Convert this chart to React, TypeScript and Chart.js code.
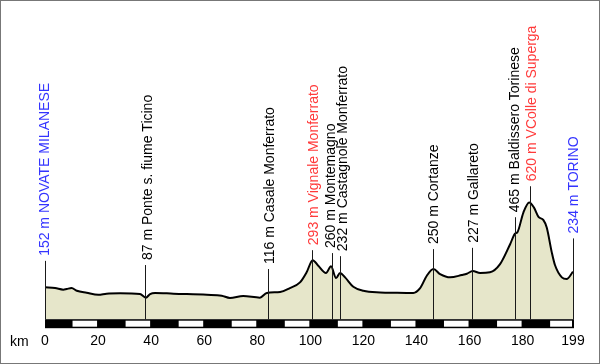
import React, { useEffect, useRef } from "react";
import { Chart, registerables } from "chart.js";

Chart.register(...registerables);

// Elevation profile (km, metres)
const profileKm = [0, 3.8, 6.9, 8.2, 10, 12, 15.7, 20.1, 23.2, 28.3, 35.8, 38, 39.6, 41.5, 48.4, 61, 66.6, 69.7, 74.7, 81, 83.6, 88.6, 92.3, 96.1, 98.6, 100.9, 103, 105.9, 107.8, 109.7, 111.2, 113.1, 116.2, 120, 126.3, 132.6, 138.8, 141.3, 143.9, 146.4, 148.9, 152.7, 157.1, 159, 161.2, 164, 167.7, 171.5, 175.3, 177.2, 178, 180.3, 182.5, 184.3, 186, 187.8, 189.1, 191, 192.2, 194.8, 196.6, 199];
const profileElev = [152, 148, 139, 143, 148, 133, 122, 111, 117, 119, 115, 95, 115, 121, 117, 111, 106, 93, 104, 95, 121, 126, 148, 179, 235, 302, 271, 231, 268, 203, 231, 207, 155, 133, 124, 122, 121, 146, 216, 253, 225, 207, 220, 227, 242, 231, 235, 280, 390, 449, 455, 565, 620, 592, 541, 524, 482, 345, 275, 207, 198, 238];

// Waypoints
const markerKm = [0, 37.8, 84.0, 100.8, 108.3, 111.3, 146.4, 161.0, 177.0, 182.8, 199];
const markerAlt = [152, 87, 116, 293, 260, 232, 250, 227, 465, 620, 234];
const markerName = [
  "NOVATE MILANESE",
  "Ponte s. fiume Ticino",
  "Casale Monferrato",
  "Vignale Monferrato",
  "Montemagno",
  "Castagnole Monferrato",
  "Cortanze",
  "Gallareto",
  "Baldissero Torinese",
  "VColle di Superga",
  "TORINO",
];
const markerKind = ["start", "normal", "normal", "climb", "normal", "normal", "normal", "normal", "normal", "climb", "finish"];
// elevation where each leader line ends (label starts above it)
const markerLeaderTop = [298, 275, 253, 357, 341, 324, 363, 370, 539, 710, 422];

// Axis
const tickKm = [0, 20, 40, 60, 80, 100, 120, 140, 160, 180, 199];
const distanceMax = 199;
const stripStep = 10;

// styling (label horizontal nudges in px, to avoid overlaps)
const labelNudge = [-1.5, 1.4, 0.8, 0.5, -3, 1.6, -1.1, 0, -1.5, 0, -1];

const kindColor: Record<string, string> = {
  start: "#3434ff",
  finish: "#3434ff",
  climb: "#ff3a3a",
  normal: "#000000",
};

const FONT = "'Liberation Sans', Arial, sans-serif";

const overlayPlugin = {
  id: "overlay",
  afterDatasetsDraw(chart: any) {
    const { ctx, chartArea, scales } = chart;
    const xs = scales.x;
    const ys = scales.y;
    ctx.save();
    // leader lines
    ctx.strokeStyle = "#1a1a1a";
    ctx.lineWidth = 1;
    markerKm.forEach((km, i) => {
      const x = Math.round(xs.getPixelForValue(km)) + 0.5;
      const yTop = ys.getPixelForValue(markerLeaderTop[i]);
      ctx.beginPath();
      ctx.moveTo(x, chartArea.bottom);
      ctx.lineTo(x, yTop);
      ctx.stroke();
    });
    // labels
    ctx.font = `14px ${FONT}`;
    ctx.textAlign = "left";
    ctx.textBaseline = "alphabetic";
    markerKm.forEach((km, i) => {
      const x = xs.getPixelForValue(km);
      const yTop = ys.getPixelForValue(markerLeaderTop[i]);
      ctx.save();
      ctx.translate(x + 0.5 + labelNudge[i] + 5, yTop - 5);
      ctx.rotate(-Math.PI / 2);
      ctx.fillStyle = kindColor[markerKind[i]];
      ctx.fillText(`${markerAlt[i]} m ${markerName[i]}`, 0, 0);
      ctx.restore();
    });
    ctx.restore();
  },
  afterDraw(chart: any) {
    const { ctx, chartArea, scales, width, height } = chart;
    const xs = scales.x;
    ctx.save();
    // distance strip
    const top = chartArea.bottom;
    const h = 9;
    const x0 = xs.getPixelForValue(0);
    const x1 = xs.getPixelForValue(distanceMax);
    ctx.fillStyle = "#000";
    ctx.fillRect(x0, top, x1 - x0 + 1, h);
    ctx.fillStyle = "#fff";
    for (let k = stripStep, n = 1; k < distanceMax; k += stripStep, n++) {
      if (n % 2 === 1) {
        const a = xs.getPixelForValue(k);
        const b = xs.getPixelForValue(Math.min(k + stripStep, distanceMax));
        ctx.fillRect(a + 1, top + 1.5, b - a - 2, h - 3);
      }
    }
    // "km" label
    ctx.fillStyle = "#000";
    ctx.font = `14px ${FONT}`;
    ctx.textAlign = "left";
    ctx.textBaseline = "middle";
    ctx.fillText("km", 10, 342);
    // frame
    ctx.strokeStyle = "#777";
    ctx.lineWidth = 1;
    ctx.strokeRect(0.5, 0.5, width - 1, height - 1);
    ctx.restore();
  },
};

export default function App() {
  const ref = useRef<HTMLCanvasElement | null>(null);
  useEffect(() => {
    if (!ref.current) return;
    const chart = new Chart(ref.current, {
      type: "line",
      data: {
        datasets: [
          {
            data: profileKm.map((km, i) => ({ x: km, y: profileElev[i] })),
            borderColor: "#000",
            borderWidth: 2,
            backgroundColor: "#e6e6ca",
            fill: "start",
            pointRadius: 0,
            cubicInterpolationMode: "monotone",
          },
        ],
      },
      options: {
        responsive: false,
        animation: false,
        events: [],
        layout: { padding: { left: 45, right: 27, top: 10, bottom: 0 } },
        plugins: { legend: { display: false }, tooltip: { enabled: false } },
        scales: {
          x: {
            type: "linear",
            min: 0,
            max: distanceMax,
            afterBuildTicks: (scale: any) => {
              scale.ticks = tickKm.map((v) => ({ value: v }));
            },
            grid: { display: false, drawTicks: false },
            border: { display: false },
            ticks: {
              padding: 14,
              color: "#000",
              maxRotation: 0,
              autoSkip: false,
              font: { family: FONT, size: 14 },
              callback: (v: any) => String(v),
            },
          },
          y: {
            display: false,
            min: -24,
            max: 1683,
          },
        },
      },
      plugins: [overlayPlugin],
    });
    return () => chart.destroy();
  }, []);
  return (
    <div style={{ position: "fixed", left: 0, top: 0, width: 600, height: 364, background: "#fff" }}>
      <canvas ref={ref} width={600} height={364} style={{ display: "block" }} />
    </div>
  );
}
